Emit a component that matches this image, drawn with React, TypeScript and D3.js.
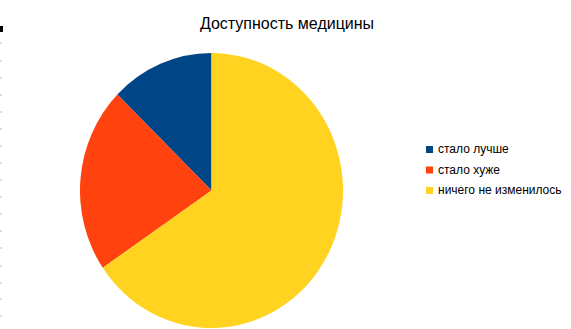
import React from "react";
import * as d3 from "d3";

const categories = ["стало лучше", "стало хуже", "ничего не изменилось"];
const values = [12.7, 21.8, 65.5];
const colors = ["#004586", "#ff420e", "#ffd320"];
const title = "Доступность медицины";
const edgeTicks = [43, 61, 78, 95, 112, 129, 146, 163, 180, 197, 214, 231, 248, 266, 283, 299, 316];

const W = 571;
const H = 329;
const cx = 211.5;
const cy = 190.5;
const RX = 131.5;
const RY = 137.5;

export default function App() {
  const pie = d3
    .pie<number>()
    .sort(null)
    .startAngle(0)
    .endAngle(-2 * Math.PI);
  const arcs = pie(values);
  const arc = d3.arc<d3.PieArcDatum<number>>().innerRadius(0).outerRadius(RY);
  const font = "'Liberation Sans', Arial, sans-serif";
  return (
    <svg
      width={W}
      height={H}
      style={{ position: "absolute", left: 0, top: 0, background: "#fff" }}
    >
      <rect x={0} y={0} width={W} height={H} fill="#fff" />
      <rect x={0} y={26} width={3} height={6} fill="#000" />
      {edgeTicks.map((y, i) => (
        <line key={i} x1={0} x2={2} y1={y} y2={y} stroke="#bbb" strokeWidth={1} />
      ))}
      <text x={287} y={29} textAnchor="middle" fontFamily={font} fontSize={16} fill="#000">
        {title}
      </text>
      <g transform={`translate(${cx},${cy}) scale(${RX / RY},1)`}>
        {arcs.map((a, i) => (
          <path key={i} d={arc(a) || ""} fill={colors[i]} />
        ))}
      </g>
      <g transform="translate(426,146)">
        {categories.map((c, i) => (
          <g key={i} transform={`translate(0,${i * 20.5})`}>
            <rect x={0} y={0} width={7} height={7} fill={colors[i]} />
            <text x={12} y={7} fontFamily={font} fontSize={12} fill="#000">
              {c}
            </text>
          </g>
        ))}
      </g>
    </svg>
  );
}
